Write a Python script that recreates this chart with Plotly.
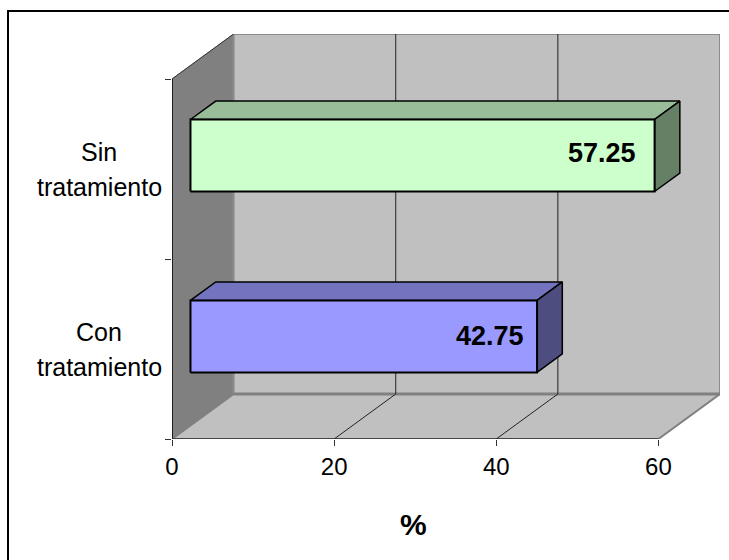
import plotly.graph_objects as go

# Chart data
categories = [["Con", "tratamiento"], ["Sin", "tratamiento"]]
values = [42.75, 57.25]
value_ticks = [0, 20, 40, 60]
axis_title = "%"

front_colors = ["#9999FF", "#CCFFCC"]
top_colors = ["#7373BF", "#99BD99"]
side_colors = ["#4D4D80", "#668066"]

# Oblique projection: depth d (0 front, 1 back) shifts a point right and up
DEPTH_X = 7.6
DEPTH_Y = 0.25
BAR_FRONT = 0.3
BAR_BACK = 0.71
BAR_HALF = 0.2
BAR_CENTERS = (0.495, 1.5)
V_MAX = 60
C_MAX = 2


def project(points):
    xs = [v + d * DEPTH_X for v, c, d in points]
    ys = [c + d * DEPTH_Y for v, c, d in points]
    return xs, ys


fig = go.Figure()


def face(points, fill, line_color, width):
    xs, ys = project(points + points[:1])
    fig.add_trace(go.Scatter(
        x=xs, y=ys, mode="lines", fill="toself", fillcolor=fill,
        line=dict(color=line_color, width=width), cliponaxis=False,
        hoverinfo="skip", showlegend=False,
    ))


def edge(points, color, width):
    xs, ys = project(points)
    fig.add_trace(go.Scatter(
        x=xs, y=ys, mode="lines", line=dict(color=color, width=width),
        cliponaxis=False, hoverinfo="skip", showlegend=False,
    ))


# Chart box walls and floor
face([(0, 0, 0), (0, C_MAX, 0), (0, C_MAX, 1), (0, 0, 1)], "#808080", "#808080", 1)
face([(0, 0, 1), (0, C_MAX, 1), (V_MAX, C_MAX, 1), (V_MAX, 0, 1)], "#C0C0C0", "#8C8C8C", 2)
face([(0, 0, 0), (0, 0, 1), (V_MAX, 0, 1), (V_MAX, 0, 0)], "#C0C0C0", "#808080", 2)
edge([(0, 0, 1), (V_MAX, 0, 1)], "#808080", 3)
edge([(0, C_MAX, 0), (0, C_MAX, 1)], "#333333", 1)

# Axis lines along the front of the box
edge([(0, 0, 0), (V_MAX, 0, 0)], "#333333", 1.5)
edge([(0, 0, 0), (0, C_MAX, 0)], "black", 1.5)

# Gridlines on the back wall and floor
for tick in value_ticks[1:-1]:
    edge([(tick, 0, 1), (tick, C_MAX, 1)], "#222222", 1)
    edge([(tick, 0, 0), (tick, 0, 1)], "#222222", 1)

# Bars: top, end and front faces
for i, value in enumerate(values):
    lo, hi = BAR_CENTERS[i] - BAR_HALF, BAR_CENTERS[i] + BAR_HALF
    face([(0, hi, BAR_FRONT), (0, hi, BAR_BACK), (value, hi, BAR_BACK), (value, hi, BAR_FRONT)],
         top_colors[i], "black", 1.5)
    face([(value, lo, BAR_FRONT), (value, hi, BAR_FRONT), (value, hi, BAR_BACK), (value, lo, BAR_BACK)],
         side_colors[i], "black", 1.5)
    face([(0, lo, BAR_FRONT), (0, hi, BAR_FRONT), (value, hi, BAR_FRONT), (value, lo, BAR_FRONT)],
         front_colors[i], "black", 2)

FONT = "Liberation Sans, Arial, sans-serif"
annotations = []

# Two-line category labels, centred left of the axis
for i, lines in enumerate(categories):
    for line, shift in zip(lines, (17.5, -17.5)):
        annotations.append(dict(
            x=0, y=i + 0.5, xref="x", yref="y", text=line, showarrow=False,
            xanchor="center", yanchor="middle", xshift=-73, yshift=shift,
            font=dict(family=FONT, size=25, color="black"),
        ))

# Value labels inside the bar ends
for i, value in enumerate(values):
    annotations.append(dict(
        x=value, y=i + 0.5, xref="x", yref="y", text=f"<b>{value:.2f}</b>", showarrow=False,
        xanchor="right", yanchor="middle", xshift=(7, 2)[i], yshift=(13, 16)[i],
        font=dict(family=FONT, size=27, color="black"),
    ))

# Axis title, centred under the front edge
annotations.append(dict(
    x=V_MAX / 2, y=0, xref="x", yref="y", text=f"<b>{axis_title}</b>", showarrow=False,
    xanchor="center", yanchor="middle", xshift=-2, yshift=-85,
    font=dict(family=FONT, size=30, color="black"),
))

fig.update_layout(
    width=729, height=560,
    margin=dict(l=172, r=9, t=34, b=121, pad=0),
    paper_bgcolor="white", plot_bgcolor="rgba(0,0,0,0)",
    showlegend=False,
    annotations=annotations,
    xaxis=dict(
        range=[0, V_MAX + DEPTH_X], tickvals=value_ticks, ticks="outside", ticklen=6,
        tickcolor="#333333", showgrid=False, zeroline=False, showline=False,
        tickfont=dict(family=FONT, size=24, color="black"),
    ),
    yaxis=dict(
        range=[0, C_MAX + DEPTH_Y], tickvals=[0, 1, 2], ticktext=["", "", ""],
        ticks="outside", ticklen=6, tickcolor="#333333", showgrid=False,
        zeroline=False, showline=False,
    ),
    # Outer chart frame; its right and bottom sides fall past the page edge
    shapes=[dict(
        type="rect", xref="paper", yref="paper",
        x0=-164 / 548, x1=1.25, y0=-0.5, y1=1 + 23 / 405,
        line=dict(color="black", width=2), fillcolor="rgba(0,0,0,0)", layer="below",
    )],
)

fig.write_html("out.html")
